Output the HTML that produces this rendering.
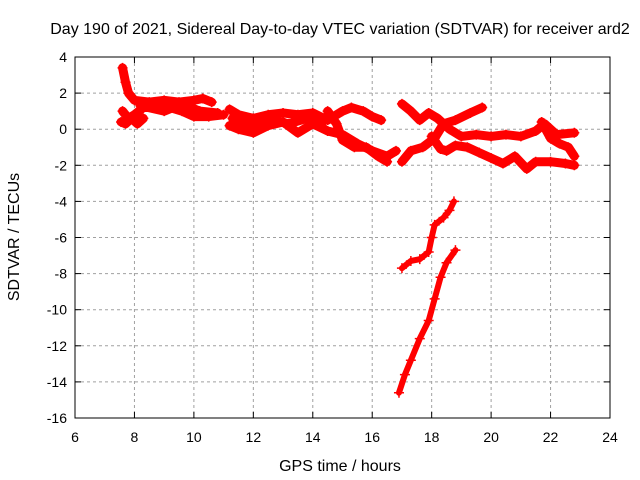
<!DOCTYPE html>
<html><head><meta charset="utf-8"><style>
body{margin:0;background:#fff;}
svg{display:block;font-family:"Liberation Sans",sans-serif;}
</style></head><body>
<svg id="chart" width="640" height="480" viewBox="0 0 640 480" xmlns="http://www.w3.org/2000/svg">
<rect width="640" height="480" fill="#fff"/>
<g id="grid"></g>
<g id="axes"></g>
<g id="series"></g>
<text x="340" y="34" font-size="16" text-anchor="middle">Day 190 of 2021, Sidereal Day-to-day VTEC variation (SDTVAR) for receiver ard2</text>
<text x="340" y="471" font-size="16" text-anchor="middle">GPS time / hours</text>
<text x="19" y="237" font-size="16" text-anchor="middle" transform="rotate(-90 19 237)">SDTVAR / TECUs</text>
</svg>
<script>
const xTicks=[6,8,10,12,14,16,18,20,22,24];
const yTicks=[4,2,0,-2,-4,-6,-8,-10,-12,-14,-16];
const trackA=[[7.6,3.4],[7.7,2.6],[7.8,2.0],[8.0,1.6],[8.5,1.5],[9.0,1.6],[9.5,1.5],[10.0,1.6],[10.3,1.7],[10.6,1.5]];
const trackB=[[7.6,1.0],[7.8,0.6],[8.0,0.8],[8.3,1.2],[8.7,1.2],[9.2,1.2],[9.6,1.0],[10.0,0.7],[10.5,0.7],[11.0,0.8]];
const trackC=[[7.55,0.4],[7.7,0.3],[7.9,0.6],[8.1,0.3],[8.3,0.6]];
const trackD=[[11.2,1.1],[11.5,0.8],[12.0,0.6],[12.5,0.8],[13.0,0.9],[13.5,0.8],[14.0,0.9],[14.5,0.5],[15.0,1.0],[15.3,1.2],[15.7,1.0],[16.0,0.7],[16.3,0.5]];
const trackE=[[11.2,0.2],[11.5,0.0],[12.0,-0.2],[12.5,0.2],[13.0,0.4],[13.5,-0.2],[14.0,0.3],[14.5,-0.1],[15.0,-0.3],[15.5,-0.8],[16.0,-1.2],[16.5,-1.5],[16.8,-1.2]];
const trackF=[[14.5,1.0],[14.8,0.3],[15.0,-0.6],[15.4,-1.0],[15.8,-1.0],[16.2,-1.5],[16.5,-1.8]];
const trackG=[[17.0,1.4],[17.3,1.0],[17.6,0.5],[17.9,0.9],[18.2,0.6],[18.6,0.0],[19.0,-0.4],[19.5,-0.3],[20.0,-0.4],[20.5,-0.3],[21.0,-0.4],[21.5,-0.1],[21.8,0.3],[22.2,-0.3],[22.8,-0.2]];
const trackH=[[17.0,-1.8],[17.3,-1.2],[17.7,-1.0],[18.1,-0.5],[18.4,0.3],[18.8,0.5],[19.3,0.9],[19.7,1.2]];
const trackI=[[18.0,-0.4],[18.3,-1.1],[18.5,-1.2],[18.8,-0.9],[19.2,-1.0],[19.6,-1.3],[20.0,-1.6],[20.4,-1.9],[20.8,-1.5],[21.2,-2.2],[21.5,-1.8],[22.0,-1.8],[22.5,-1.9],[22.8,-2.0]];
const trackJ=[[21.7,0.4],[22.0,-0.5],[22.3,-0.8],[22.6,-1.0],[22.8,-1.5]];
const trackM=[[8.2,1.3],[9.0,1.0],[9.6,1.4],[10.2,1.0],[10.8,0.9]];
const trackN=[[11.3,0.6],[12.0,0.2],[12.6,0.5],[13.2,0.3],[13.8,0.6],[14.3,0.2]];
const trackK=[[17.0,-7.7],[17.3,-7.3],[17.6,-7.2],[17.9,-6.8],[18.0,-6.0],[18.1,-5.3],[18.4,-4.9],[18.6,-4.5],[18.75,-4.0]];
const trackL=[[16.9,-14.6],[17.1,-13.6],[17.3,-12.8],[17.6,-11.6],[17.9,-10.6],[18.1,-9.4],[18.3,-8.2],[18.5,-7.4],[18.8,-6.7]];
const upperTracks=[trackA,trackB,trackC,trackD,trackE,trackF,trackG,trackH,trackI,trackJ,trackM,trackN];
const lowerTracks=[trackK,trackL];

const L=75,R=610,T=57,B=418,X0=6,X1=24,Y0=-16,Y1=4;
const sx=v=>L+(v-X0)/(X1-X0)*(R-L);
const sy=v=>B-(v-Y0)/(Y1-Y0)*(B-T);
const NS="http://www.w3.org/2000/svg";
function mk(tag,attrs,parent){const e=document.createElementNS(NS,tag);for(const k in attrs)e.setAttribute(k,attrs[k]);parent.appendChild(e);return e;}
const grid=document.getElementById('grid'),axes=document.getElementById('axes'),ser=document.getElementById('series');
xTicks.forEach(t=>{
  const x=sx(t);
  if(t>X0&&t<X1){const g=mk('line',{x1:x,x2:x,y1:T,y2:B,stroke:'#a0a0a0','stroke-dasharray':'3,3','stroke-width':1},grid);
  
  }
  mk('line',{x1:x,x2:x,y1:B,y2:B-6,stroke:'#000'},axes);
  mk('line',{x1:x,x2:x,y1:T,y2:T+6,stroke:'#000'},axes);
  const tx=mk('text',{x:x,y:B+24,'font-size':14,'text-anchor':'middle'},axes);tx.textContent=t;
  
  
});
yTicks.forEach(t=>{
  const y=sy(t);
  if(t>Y0&&t<Y1){const g=mk('line',{x1:L,x2:R,y1:y,y2:y,stroke:'#a0a0a0','stroke-dasharray':'3,3','stroke-width':1},grid);
  
  }
  mk('line',{x1:L,x2:L+6,y1:y,y2:y,stroke:'#000'},axes);
  mk('line',{x1:R,x2:R-6,y1:y,y2:y,stroke:'#000'},axes);
  const tx=mk('text',{x:L-8,y:y+5,'font-size':14,'text-anchor':'end'},axes);tx.textContent=t;
  
  
});
const border=mk('rect',{x:L,y:T,width:R-L,height:B-T,fill:'none',stroke:'#000','stroke-width':1},axes);


function drawTrack(tr,i,w){
  const pl=mk('polyline',{points:tr.map(p=>sx(p[0])+','+sy(p[1])).join(' '),fill:'none',stroke:'#f00','stroke-width':w,'stroke-linejoin':'round','stroke-linecap':'round'},ser);
  
  
  tr.forEach(p=>{
    const x=sx(p[0]),y=sy(p[1]);
    const m=mk('path',{d:`M${x-5},${y}H${x+5}M${x},${y-5}V${y+5}`,stroke:'#f00','stroke-width':1.5},ser);
    
    
  });
}
upperTracks.forEach((tr,i)=>drawTrack(tr,i,9));
lowerTracks.forEach((tr,i)=>drawTrack(tr,'lower-'+i,6));
</script>
</body></html>
